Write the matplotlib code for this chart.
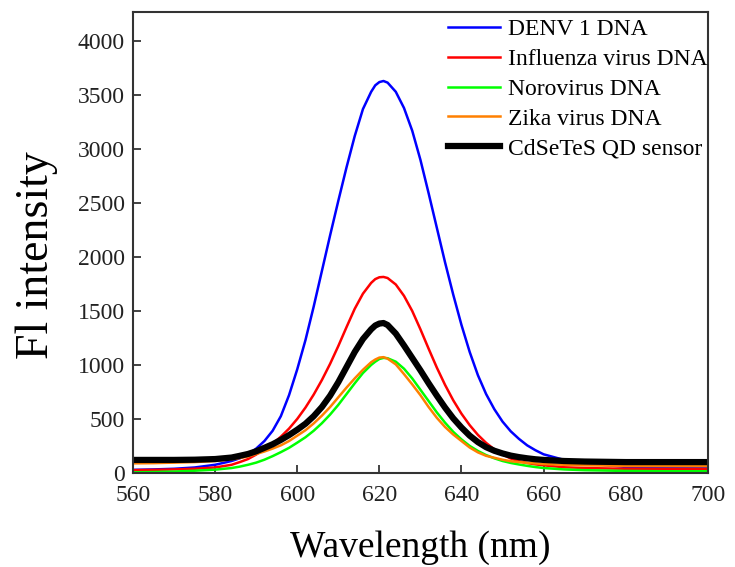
import numpy as np
import matplotlib
matplotlib.use("Agg")
import matplotlib.pyplot as plt

# wavelength grid (nm)
wavelength = [560, 565, 570, 575, 580,
              584, 586, 588, 590, 592, 594, 596, 598, 600, 602, 604, 606, 608,
              610, 612, 614, 616, 618, 619, 620, 621,
              622, 624, 626, 628, 630, 632, 634, 636, 638, 640, 642, 644, 646,
              648, 650, 652, 654, 656, 658, 660,
              665, 670, 680, 690, 700]

denv = [28, 32, 38, 50, 75,
        110, 135, 170, 225, 295, 390, 525, 720, 960, 1230, 1540, 1870, 2200,
        2520, 2830, 3120, 3370, 3530, 3590, 3620, 3630,
        3615, 3530, 3380, 3170, 2900, 2590, 2270, 1950, 1650, 1370, 1120, 905, 730,
        590, 475, 385, 315, 255, 210, 172,
        120, 90, 55, 48, 45]

influenza = [25, 28, 32, 38, 50,
             75, 100, 128, 170, 218, 270, 335, 410, 500, 605, 725, 860, 1010,
             1175, 1350, 1520, 1660, 1760, 1795, 1812, 1815,
             1805, 1745, 1640, 1500, 1330, 1150, 975, 815, 672, 548, 442, 352, 278,
             218, 170, 133, 108, 91, 79, 70,
             52, 45, 38, 35, 35]

norovirus = [5, 8, 12, 20, 30,
             45, 58, 75, 95, 122, 155, 192, 232, 280, 330, 390, 460, 540,
             630, 730, 830, 925, 1000, 1030, 1055, 1065,
             1062, 1030, 965, 875, 770, 665, 560, 465, 380, 310, 250, 203, 165,
             135, 110, 92, 78, 65, 54, 45,
             32, 25, 18, 15, 15]

zika = [88, 90, 95, 100, 110,
        125, 137, 152, 175, 198, 225, 255, 295, 345, 395, 458, 530, 610,
        700, 790, 875, 955, 1025, 1050, 1068, 1072,
        1058, 1005, 915, 820, 720, 610, 510, 425, 355, 295, 235, 190, 158,
        140, 122, 108, 100, 93, 88, 82,
        75, 70, 65, 63, 62]

sensor = [120, 120, 120, 122, 128,
          142, 158, 175, 200, 232, 265, 305, 350, 400, 455, 525, 610, 715,
          840, 980, 1120, 1240, 1330, 1365, 1383, 1388,
          1370, 1290, 1180, 1065, 950, 830, 715, 605, 505, 420, 345, 285, 238,
          205, 180, 160, 146, 135, 126, 120,
          110, 105, 100, 100, 100]

labels = ["DENV 1 DNA", "Influenza virus DNA", "Norovirus DNA",
          "Zika virus DNA", "CdSeTeS QD sensor"]
colors = ["#0000FF", "#FF0000", "#00FF00", "#FF8000", "#000000"]

plt.rcParams['font.family'] = ['Liberation Serif', 'DejaVu Serif']

fig = plt.figure(figsize=(7.35, 5.67), dpi=100)
ax = fig.add_axes([0.181, 0.166, 0.782, 0.813])

series = [denv, influenza, norovirus, zika, sensor]
for ys, lab, col in zip(series, labels, colors):
    lw = 4.5 if col == "#000000" else 1.8
    ax.plot(wavelength, ys, color=col, lw=lw, label=lab, solid_joinstyle='round')

ax.set_xlim(560, 700)
ax.set_ylim(0, 4270)
ax.set_xticks(np.arange(560, 701, 20))
ax.set_yticks(np.arange(0, 4001, 500))
ax.tick_params(direction='in', length=6, width=1.2, labelsize=17, colors='#222222')
ax.tick_params(axis='x', pad=9)
ax.tick_params(axis='y', pad=6)
for s in ax.spines.values():
    s.set_linewidth(1.5)
    s.set_color('#333333')

ax.set_xlabel("Wavelength (nm)", fontsize=27, labelpad=17)
ax.set_ylabel("Fl intensity", fontsize=33)
ax.yaxis.set_label_coords(-0.13, 0.473)

ax.legend(loc='upper right', bbox_to_anchor=(0.999, 0.985), frameon=False,
          fontsize=17, handlelength=2.2, handletextpad=0.32, labelspacing=0.35,
          borderpad=0, borderaxespad=0)

fig.savefig("out.png", dpi=100)
